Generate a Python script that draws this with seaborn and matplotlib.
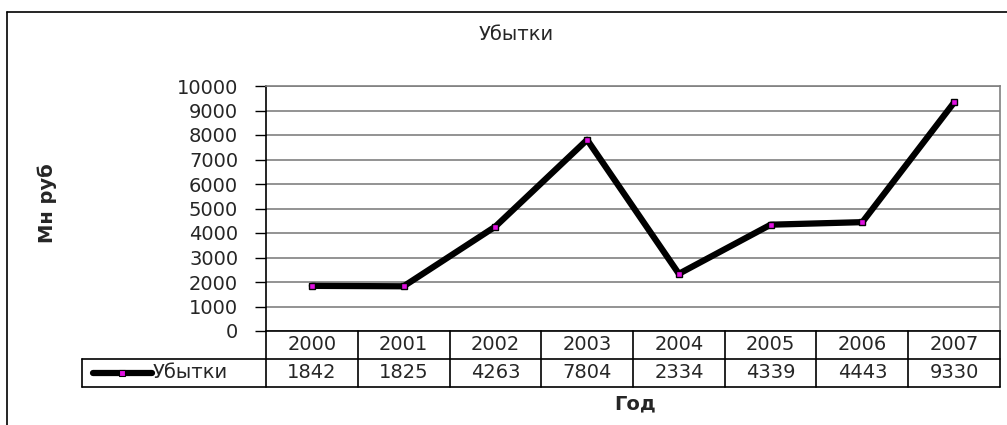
import pandas as pd
import seaborn as sns
import matplotlib.pyplot as plt
from matplotlib.lines import Line2D

# Data
years = ["2000", "2001", "2002", "2003", "2004", "2005", "2006", "2007"]
losses = [1842, 1825, 4263, 7804, 2334, 4339, 4443, 9330]
series_name = "Убытки"
title = "Убытки"
y_label = "Мн руб"
x_label = "Год"

df = pd.DataFrame({"pos": range(len(years)), "value": losses})

sns.set_style("white")
plt.rcParams["font.family"] = ["DejaVu Sans"]
FS = 14

W, H = 1007, 425
fig = plt.figure(figsize=(W / 100, H / 100), dpi=100)

# plot area in pixels
left, right, top, bottom = 266, 1000, 86, 331
ax = fig.add_axes([left / W, 1 - bottom / H, (right - left) / W, (bottom - top) / H])

sns.lineplot(data=df, x="pos", y="value", ax=ax, color="black", linewidth=4.5,
             marker="s", markersize=5, markerfacecolor="#e010e0",
             markeredgecolor="black", markeredgewidth=1, zorder=5)

ax.set_xlim(-0.5, len(years) - 0.5)
ax.set_ylim(0, 10000)
ax.set_yticks(range(0, 10001, 1000))
ax.set_xticks([])
ax.set_xlabel("")
ax.set_ylabel("")
ax.tick_params(axis="y", direction="out", length=8, width=1, color="black",
               labelsize=FS, pad=12, left=True)
ax.grid(axis="y", color="#808080", linewidth=1.2)
ax.set_axisbelow(True)
for s in ["top", "right"]:
    ax.spines[s].set_color("#808080")
    ax.spines[s].set_linewidth(1.2)
ax.spines["left"].set_color("black")
ax.spines["bottom"].set_color("black")
ax.spines["left"].set_linewidth(1.2)
ax.spines["bottom"].set_linewidth(1.2)

# data table under the axis
ph = bottom - top
pw = right - left
r1 = -28 / ph
r2 = -56 / ph
lx = (82 - left) / pw
kw = dict(transform=ax.transAxes, color="black", linewidth=1.2, clip_on=False)
ax.add_line(Line2D([lx, 1], [r1, r1], **kw))
ax.add_line(Line2D([lx, 1], [r2, r2], **kw))
ax.add_line(Line2D([lx, lx], [r1, r2], **kw))
ax.add_line(Line2D([0, 0], [0, r2], **kw))
n = len(years)
for i in range(1, n + 1):
    ax.add_line(Line2D([i / n, i / n], [0, r2], **kw))
for i, (yr, v) in enumerate(zip(years, losses)):
    xc = (i + 0.5) / n
    ax.text(xc, r1 / 2, yr, transform=ax.transAxes, ha="center", va="center", fontsize=FS)
    ax.text(xc, (r1 + r2) / 2, str(v), transform=ax.transAxes, ha="center", va="center", fontsize=FS)

# legend key in the table
ky = (r1 + r2) / 2
ax.add_line(Line2D([(93 - left) / pw, (152 - left) / pw], [ky, ky], transform=ax.transAxes,
                   color="black", linewidth=4.5, clip_on=False))
ax.add_line(Line2D([(122 - left) / pw], [ky], transform=ax.transAxes, marker="s",
                   markersize=4, markerfacecolor="#e010e0", markeredgecolor="black",
                   markeredgewidth=0.8, linestyle="none", clip_on=False))
ax.text((153 - left) / pw, ky, series_name, transform=ax.transAxes, ha="left",
        va="center", fontsize=FS)

# titles
fig.text(516 / W, 1 - 35 / H, title, ha="center", va="center", fontsize=FS)
fig.text(635 / W, 1 - 404 / H, x_label, ha="center", va="center", fontsize=FS, fontweight="bold")
fig.text(47 / W, 1 - 203 / H, y_label, ha="center", va="center", fontsize=FS,
         fontweight="bold", rotation=90)

# outer chart frame
fig.add_artist(Line2D([7 / W, 7 / W], [0, 1 - 12 / H], transform=fig.transFigure, color="black", linewidth=1.2))
fig.add_artist(Line2D([7 / W, 1], [1 - 12 / H, 1 - 12 / H], transform=fig.transFigure, color="black", linewidth=1.2))

fig.savefig("out.png", dpi=100)
